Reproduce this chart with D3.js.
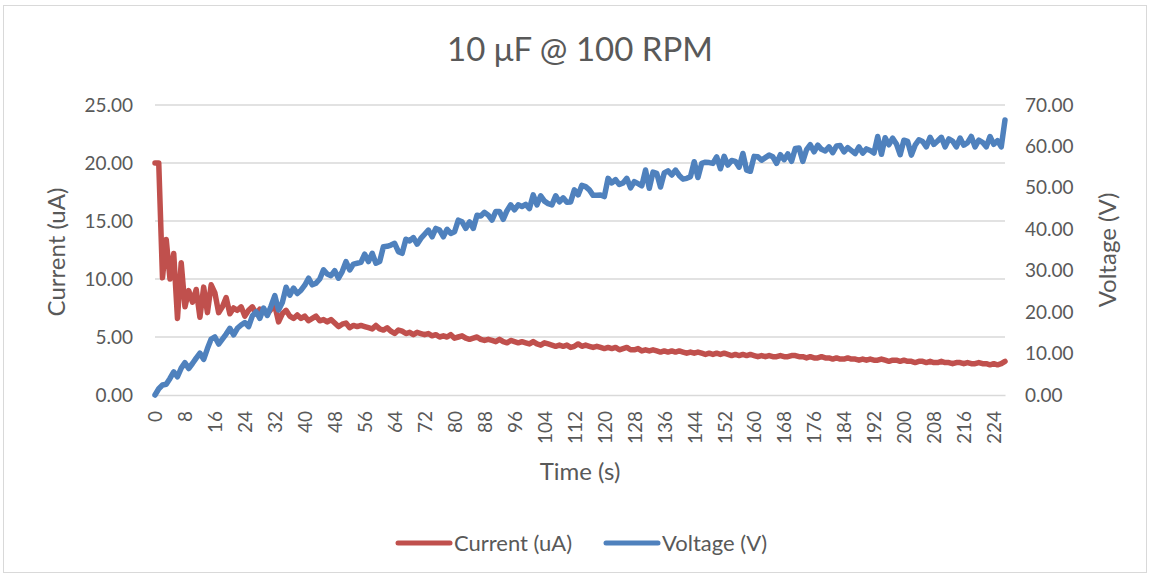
<!DOCTYPE html>
<html lang="en">
<head>
    <meta charset="UTF-8">
    <title>10 μF @ 100 RPM</title>
    <script type="text/javascript" src="https://cdn.jsdelivr.net/npm/d3@7/dist/d3.min.js"></script>
    <style>
        body { margin: 0; background: #fff; }
        text { font-family: Lato, "Open Sans", sans-serif; fill: #595959; }
    </style>
</head>
<body>
<script type="text/javascript">
    const width = 1151, height = 577;

    // values, one sample per second
    const current = [
        20.0, 20.0, 10.1, 13.4, 10.0, 12.2, 6.6, 11.4, 7.6, 9.0,
        8.0, 9.1, 6.7, 9.3, 7.1, 9.5, 8.8, 7.1, 7.6, 8.4,
        7.0, 7.5, 7.3, 7.6, 6.8, 7.3, 7.6, 7.0, 7.4, 7.2,
        7.0, 7.4, 7.7, 6.3, 7.0, 7.3, 6.8, 6.6, 6.9, 6.6,
        6.8, 6.4, 6.6, 6.8, 6.4, 6.5, 6.3, 6.5, 6.2, 5.9,
        6.1, 6.2, 5.8, 6.0, 5.9, 6.0, 5.9, 5.8, 5.7, 6.0,
        5.7, 5.6, 5.8, 5.5, 5.3, 5.6, 5.5, 5.3, 5.4, 5.2,
        5.4, 5.3, 5.2, 5.3, 5.1, 5.2, 5.0, 5.1, 5.0, 5.2,
        4.9, 5.0, 5.1, 4.9, 4.8, 4.9, 5.0, 4.8, 4.7, 4.8,
        4.7, 4.6, 4.8, 4.6, 4.5, 4.7, 4.6, 4.5, 4.6, 4.5,
        4.4, 4.6, 4.4, 4.3, 4.5, 4.4, 4.3, 4.2, 4.3, 4.2,
        4.3, 4.1, 4.2, 4.4, 4.2, 4.3, 4.2, 4.1, 4.2, 4.1,
        4.0, 4.1, 4.0, 4.1, 3.9, 4.0, 4.1, 3.9, 3.9, 4.0,
        3.8, 3.9, 3.8, 3.9, 3.8, 3.7, 3.8, 3.7, 3.8, 3.7,
        3.8, 3.7, 3.6, 3.7, 3.6, 3.7, 3.6, 3.5, 3.6, 3.5,
        3.6, 3.5, 3.6, 3.5, 3.4, 3.5, 3.4, 3.5, 3.4, 3.5,
        3.4, 3.3, 3.4, 3.3, 3.4, 3.3, 3.3, 3.4, 3.3, 3.3,
        3.4, 3.4, 3.3, 3.3, 3.2, 3.3, 3.2, 3.2, 3.3, 3.2,
        3.2, 3.1, 3.2, 3.1, 3.1, 3.2, 3.1, 3.1, 3.0, 3.1,
        3.0, 3.1, 3.0, 3.0, 3.1, 3.0, 2.9, 3.0, 3.0, 2.9,
        3.0, 2.9, 2.9, 2.8, 2.9, 2.9, 2.8, 2.9, 2.8, 2.8,
        2.9, 2.8, 2.8, 2.7, 2.8, 2.8, 2.7, 2.8, 2.7, 2.7,
        2.8, 2.7, 2.7, 2.6, 2.7, 2.6, 2.7, 2.9
    ];
    const voltage = [
        0.0, 1.5, 2.4, 2.6, 4.0, 5.6, 4.4, 6.5, 7.8, 6.4,
        7.6, 8.9, 10.1, 8.6, 11.2, 13.5, 14.0, 12.3, 13.5, 14.7,
        16.1, 14.5, 16.1, 16.9, 17.5, 16.5, 19.1, 20.1, 18.5, 21.0,
        19.2, 21.5, 24.0, 20.5, 22.3, 26.0, 24.1, 25.8, 24.5, 25.3,
        26.5, 28.2, 26.6, 27.0, 28.0, 30.2, 29.2, 28.8, 30.0, 28.2,
        29.8, 32.2, 30.2, 31.6, 31.8, 32.0, 34.0, 32.2, 34.2, 31.8,
        32.2, 35.8, 35.9, 36.2, 36.6, 34.6, 34.2, 37.6, 37.2, 38.0,
        36.4, 37.8, 38.8, 39.8, 38.2, 40.2, 39.8, 38.2, 40.0, 39.0,
        39.4, 42.2, 41.8, 40.2, 41.8, 40.2, 43.4, 43.2, 44.1, 43.4,
        42.2, 44.3, 44.3, 42.4, 44.5, 45.9, 44.7, 45.9, 45.5, 46.0,
        45.0, 48.3, 45.9, 48.1, 46.8, 46.2, 45.9, 48.1, 46.6, 47.6,
        46.5, 46.6, 49.5, 48.3, 50.6, 50.3, 49.5, 48.2, 48.2, 48.3,
        47.9, 52.3, 51.2, 52.0, 50.8, 51.2, 52.3, 50.0, 51.5, 51.0,
        50.5, 54.3, 49.9, 53.8, 53.5, 50.2, 53.6, 54.1, 53.1, 54.3,
        53.0, 52.1, 52.3, 52.7, 56.3, 52.5, 55.9, 56.2, 56.1, 55.9,
        57.5, 54.6, 57.6, 55.5, 56.6, 56.4, 55.0, 58.3, 54.3, 54.0,
        57.6, 57.5, 56.7, 57.3, 57.9, 57.5, 55.9, 58.0, 56.8, 58.2,
        56.4, 59.5, 59.6, 56.4, 59.2, 60.4, 58.7, 60.3, 59.3, 58.9,
        59.9, 58.5, 60.1, 60.2, 58.7, 59.7, 59.0, 58.3, 59.9, 58.4,
        59.4, 59.0, 58.4, 62.4, 58.1, 62.1, 60.4, 62.0, 60.6, 58.0,
        61.5, 61.2, 57.9, 60.3, 61.6, 61.2, 59.9, 62.2, 60.5, 61.3,
        62.2, 59.9, 61.8, 61.3, 59.9, 62.0, 60.3, 60.9, 62.4, 59.9,
        61.5, 61.0, 59.9, 62.4, 60.5, 61.4, 59.9, 66.4
    ];
    const time = d3.range(current.length);          // 0 .. 227 s
    const timeTicks = time.filter(t => t % 8 === 0);  // 0, 8, ... 224
    const currentTicks = [0, 5, 10, 15, 20, 25];
    const voltageTicks = [0, 10, 20, 30, 40, 50, 60, 70];

    const red = '#c0504d', blue = '#4f81bd', grid = '#d9d9d9';

    const svg = d3.select('body').append('svg')
        .attr('width', width)
        .attr('height', height);

    // chart border
    svg.append('rect')
        .attr('x', 3.5).attr('y', 5.5)
        .attr('width', 1143).attr('height', 567)
        .attr('fill', '#fff')
        .attr('stroke', grid);

    const x = d3.scaleLinear().domain([0, time.length - 1]).range([155, 1005]);
    const yLeft = d3.scaleLinear().domain([0, 25]).range([395, 105]);
    const yRight = d3.scaleLinear().domain([0, 70]).range([395, 105]);

    // gridlines
    svg.append('g')
        .selectAll('line')
        .data(currentTicks.slice(1))
        .enter()
        .append('line')
        .attr('x1', x(0)).attr('x2', x(time.length - 1))
        .attr('y1', d => yLeft(d)).attr('y2', d => yLeft(d))
        .attr('stroke', grid).attr('stroke-width', 1.3);

    // left axis
    const gLeft = svg.append('g')
        .attr('transform', 'translate(' + (x(0) - 10) + ',0)')
        .call(d3.axisLeft(yLeft).tickValues(currentTicks).tickSize(0).tickPadding(12)
            .tickFormat(d3.format('.2f')));
    gLeft.select('.domain').remove();

    // right axis
    const gRight = svg.append('g')
        .attr('transform', 'translate(' + (x(time.length - 1) + 6) + ',0)')
        .call(d3.axisRight(yRight).tickValues(voltageTicks).tickSize(0).tickPadding(14)
            .tickFormat(d3.format('.2f')));
    gRight.select('.domain').remove();

    // bottom axis
    const gBottom = svg.append('g')
        .attr('transform', 'translate(0,' + yLeft(0) + ')')
        .call(d3.axisBottom(x).tickValues(timeTicks).tickSize(0).tickFormat(d3.format('d')));
    gBottom.select('.domain')
        .attr('stroke', grid).attr('stroke-width', 1.3);
    gBottom.selectAll('text')
        .attr('transform', 'rotate(-90)')
        .attr('text-anchor', 'end')
        .attr('x', -16)
        .attr('y', 0)
        .attr('dy', '0.36em');

    svg.selectAll('.tick text')
        .style('font-size', '19px')
        .style('fill', '#595959');

    // series
    const lineCurrent = d3.line()
        .x((d, i) => x(time[i]))
        .y(d => yLeft(d));
    const lineVoltage = d3.line()
        .x((d, i) => x(time[i]))
        .y(d => yRight(d));

    svg.append('path')
        .datum(current)
        .attr('d', lineCurrent)
        .attr('fill', 'none')
        .attr('stroke', red)
        .attr('stroke-width', 5.5)
        .attr('stroke-linejoin', 'round')
        .attr('stroke-linecap', 'round');

    svg.append('path')
        .datum(voltage)
        .attr('d', lineVoltage)
        .attr('fill', 'none')
        .attr('stroke', blue)
        .attr('stroke-width', 5.5)
        .attr('stroke-linejoin', 'round')
        .attr('stroke-linecap', 'round');

    // titles
    svg.append('text')
        .attr('x', 580).attr('y', 61)
        .attr('text-anchor', 'middle')
        .style('font-size', '33px')
        .text('10 μF @ 100 RPM');

    svg.append('text')
        .attr('transform', 'translate(65,252) rotate(-90)')
        .attr('text-anchor', 'middle')
        .style('font-size', '24px')
        .text('Current (uA)');

    svg.append('text')
        .attr('transform', 'translate(1116,250) rotate(-90)')
        .attr('text-anchor', 'middle')
        .style('font-size', '24px')
        .text('Voltage (V)');

    svg.append('text')
        .attr('x', 580).attr('y', 480)
        .attr('text-anchor', 'middle')
        .style('font-size', '24px')
        .text('Time (s)');

    // legend
    const legend = [
        {name: 'Current (uA)', color: red, x: 398},
        {name: 'Voltage (V)', color: blue, x: 606}
    ];
    const gLegend = svg.append('g');
    gLegend.selectAll('line')
        .data(legend)
        .enter()
        .append('line')
        .attr('x1', d => d.x).attr('x2', d => d.x + 52)
        .attr('y1', 543).attr('y2', 543)
        .attr('stroke', d => d.color)
        .attr('stroke-width', 5)
        .attr('stroke-linecap', 'round');
    gLegend.selectAll('text')
        .data(legend)
        .enter()
        .append('text')
        .attr('x', d => d.x + 56)
        .attr('y', 551)
        .style('font-size', '22px')
        .text(d => d.name);
</script>
</body>
</html>
